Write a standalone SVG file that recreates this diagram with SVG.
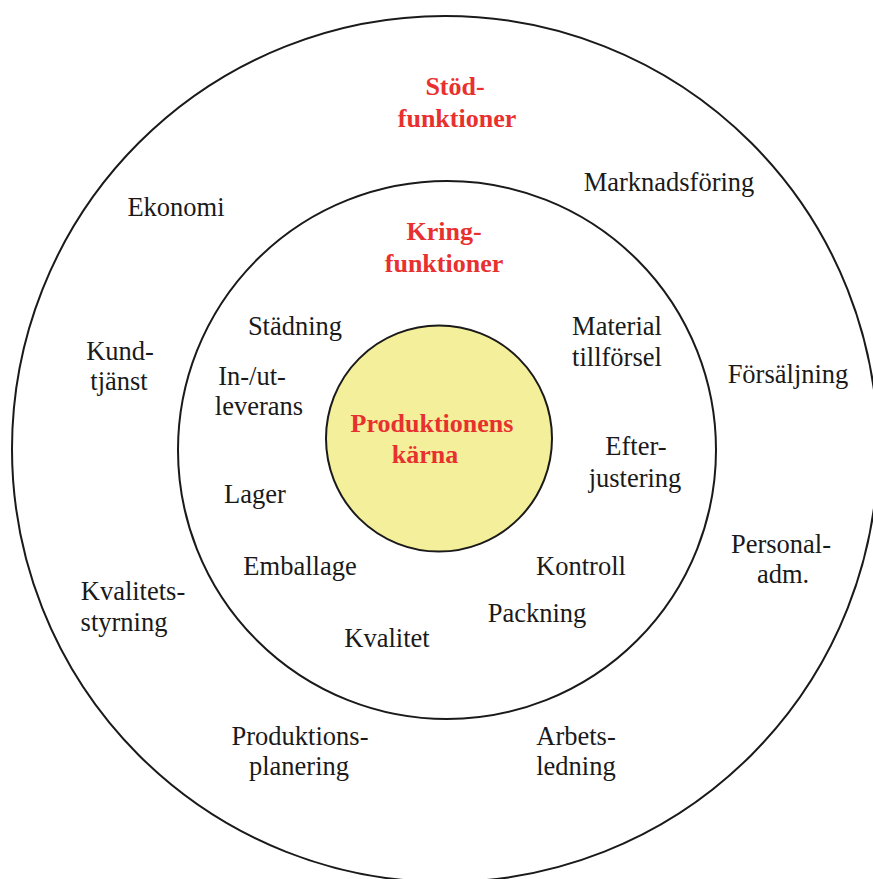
<svg xmlns="http://www.w3.org/2000/svg" width="873" height="879" viewBox="0 0 873 879">
<style>
.ring{fill:none;stroke:#1a1a1a;stroke-width:2}
.core{fill:#F3EF9B;stroke:#1a1a1a;stroke-width:2}
.t{font-family:"Liberation Serif","Times New Roman",serif;font-size:26.5px;fill:#1a1a1a;text-anchor:middle}
.r{font-family:"Liberation Serif","Times New Roman",serif;font-size:26px;font-weight:bold;fill:#E8312F;text-anchor:middle}
</style>
<rect width="873" height="879" fill="#ffffff"/>
<g id="outer-ring">
<circle class="ring" cx="445" cy="449" r="433"/>
<text class="r" x="455" y="95" font-size="24.5">Stöd-</text>
<text class="r" x="457" y="127">funktioner</text>
</g>
<g id="middle-ring">
<circle class="ring" cx="447" cy="450" r="269"/>
<text class="r" x="444" y="240">Kring-</text>
<text class="r" x="444" y="272">funktioner</text>
</g>
<g id="core">
<circle class="core" cx="439" cy="438.5" r="113"/>
<text class="r" x="432" y="432" font-size="27.5">Produktionens</text>
<text class="r" x="425" y="463" font-size="27.5">kärna</text>
</g>
<g id="stod-labels">
<text class="t" x="176" y="216">Ekonomi</text>
<text class="t" x="669" y="191">Marknadsföring</text>
<text class="t" x="120" y="360">Kund-</text>
<text class="t" x="119" y="390">tjänst</text>
<text class="t" x="788" y="383">Försäljning</text>
<text class="t" x="781" y="553">Personal-</text>
<text class="t" x="783" y="583">adm.</text>
<text class="t" x="133" y="600">Kvalitets-</text>
<text class="t" x="124" y="631">styrning</text>
<text class="t" x="300" y="745">Produktions-</text>
<text class="t" x="299" y="775">planering</text>
<text class="t" x="576" y="745">Arbets-</text>
<text class="t" x="576" y="775">ledning</text>
</g>
<g id="kring-labels">
<text class="t" x="295" y="335">Städning</text>
<text class="t" x="617" y="335">Material</text>
<text class="t" x="617" y="366">tillförsel</text>
<text class="t" x="252" y="385">In-/ut-</text>
<text class="t" x="259" y="415">leverans</text>
<text class="t" x="636" y="455">Efter-</text>
<text class="t" x="635" y="487">justering</text>
<text class="t" x="255" y="503">Lager</text>
<text class="t" x="300" y="575">Emballage</text>
<text class="t" x="581" y="575">Kontroll</text>
<text class="t" x="537" y="622">Packning</text>
<text class="t" x="387" y="647">Kvalitet</text>
</g>
</svg>
